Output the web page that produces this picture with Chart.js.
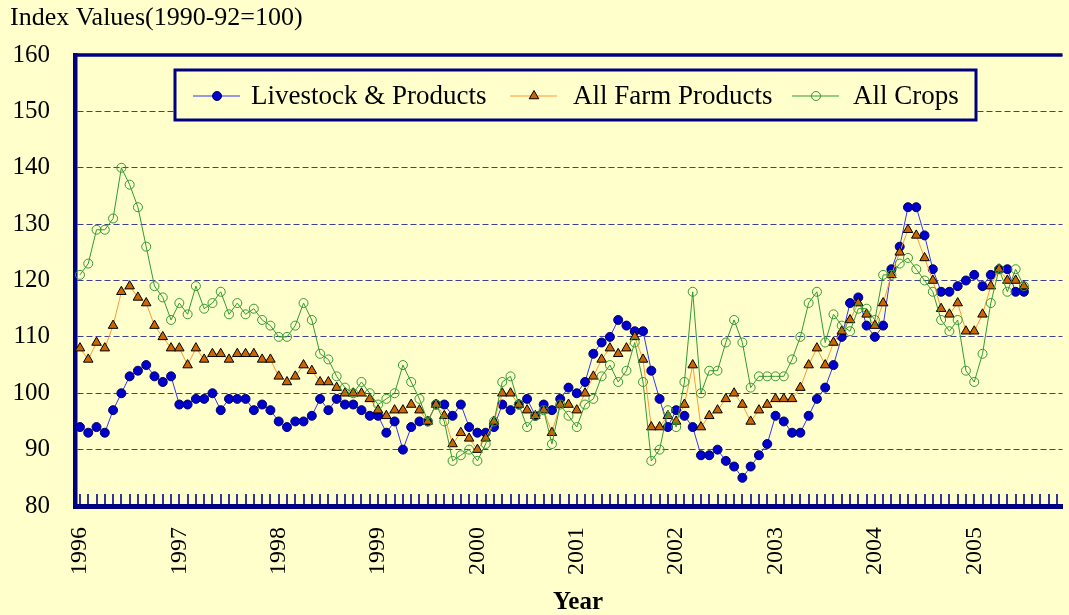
<!DOCTYPE html>
<html>
<head>
<meta charset="utf-8">
<title>Index Values (1990-92=100)</title>
<script src="https://cdn.jsdelivr.net/npm/chart.js@4/dist/chart.umd.min.js"></script>
<style>
  html, body { margin: 0; padding: 0; background: #FFFFCC; overflow: hidden; }
  #wrap { width: 1069px; height: 615px; }
</style>
</head>
<body>
<div id="wrap"><canvas id="chart" width="1069" height="615"></canvas></div>
<script>
// Monatswerte Jan 1996 .. Jul 2005, Index 1990-92 = 100
const years = ['1996', '1997', '1998', '1999', '2000', '2001', '2002', '2003', '2004', '2005'];

const livestock = [
  94, 93, 94, 93, 97, 100, 103, 104, 105, 103, 102, 103,
  98, 98, 99, 99, 100, 97, 99, 99, 99, 97, 98, 97,
  95, 94, 95, 95, 96, 99, 97, 99, 98, 98, 97, 96,
  96, 93, 95, 90, 94, 95, 95, 98, 98, 96, 98, 94,
  93, 93, 94, 98, 97, 98, 99, 96, 98, 97, 99, 101,
  100, 102, 107, 109, 110, 113, 112, 111, 111, 104, 99, 94,
  97, 96, 94, 89, 89, 90, 88, 87, 85, 87, 89, 91,
  96, 95, 93, 93, 96, 99, 101, 105, 110, 116, 117, 112,
  110, 112, 122, 126, 133, 133, 128, 122, 118, 118, 119, 120,
  121, 119, 121, 122, 122, 118, 118
];

const farmProducts = [
  108, 106, 109, 108, 112, 118, 119, 117, 116, 112, 110, 108,
  108, 105, 108, 106, 107, 107, 106, 107, 107, 107, 106, 106,
  103, 102, 103, 105, 104, 102, 102, 101, 100, 100, 100, 99,
  97, 96, 97, 97, 98, 97, 95, 98, 96, 91, 93, 92,
  90, 92, 95, 100, 100, 98, 97, 96, 97, 93, 98, 98,
  97, 100, 103, 106, 108, 107, 108, 110, 106, 94, 94, 96,
  95, 98, 105, 94, 96, 97, 99, 100, 98, 95, 97, 98,
  99, 99, 99, 101, 105, 108, 105, 109, 111, 113, 116, 114,
  112, 116, 121, 125, 129, 128, 124, 120, 115, 114, 116, 111,
  111, 114, 119, 122, 120, 120, 119
];

const crops = [
  121, 123, 129, 129, 131, 140, 137, 133, 126, 119, 117, 113,
  116, 114, 119, 115, 116, 118, 114, 116, 114, 115, 113, 112,
  110, 110, 112, 116, 113, 107, 106, 103, 101, 100, 102, 100,
  98, 99, 100, 105, 102, 99, 95, 98, 95, 88, 89, 90,
  88, 91, 95, 102, 103, 98, 94, 96, 97, 91, 98, 96,
  94, 98, 99, 103, 105, 102, 104, 109, 102, 88, 90, 97,
  94, 102, 118, 100, 104, 104, 109, 113, 109, 101, 103, 103,
  103, 103, 106, 110, 116, 118, 109, 114, 112, 111, 115, 115,
  113, 121, 121, 123, 124, 122, 120, 118, 113, 111, 113, 104,
  102, 107, 116, 122, 118, 122, 119
];

const SERIF = '"Liberation Serif", "Times New Roman", serif';
const NAVY = '#000080';
const BG = '#FFFFCC';

// x = Monatsindex ab Jan 1996
function toPoints(values) {
  return values.map((v, i) => ({ x: i, y: v }));
}

// Marker wie im Datensatz zeichnen (fuer die Legende)
function drawMarker(ctx, ds, x, y) {
  ctx.save();
  ctx.lineWidth = ds.pointBorderWidth;
  ctx.strokeStyle = ds.pointBorderColor;
  ctx.fillStyle = ds.pointBackgroundColor;
  ctx.beginPath();
  if (ds.pointStyle === 'triangle') {
    const r = ds.pointRadius;
    for (let k = 0; k < 3; k++) {
      const a = k * 2 * Math.PI / 3;
      const px = x + Math.sin(a) * r;
      const py = y - Math.cos(a) * r;
      if (k === 0) ctx.moveTo(px, py); else ctx.lineTo(px, py);
    }
    ctx.closePath();
  } else {
    ctx.arc(x, y, ds.pointRadius, 0, Math.PI * 2);
  }
  ctx.fill();
  ctx.stroke();
  ctx.restore();
}

const framePlugin = {
  id: 'frame',
  beforeDatasetsDraw(chart) {
    const { ctx, chartArea: a, scales: { x } } = chart;
    ctx.save();
    // kleine Monats-Striche an der x-Achse
    ctx.strokeStyle = '#3434A0';
    ctx.lineWidth = 2;
    ctx.beginPath();
    for (let i = 0; i <= x.max; i++) {
      const px = Math.round(x.getPixelForValue(i));
      ctx.moveTo(px, a.bottom - 2);
      ctx.lineTo(px, a.bottom - 12);
    }
    ctx.stroke();
    // obere Rahmenlinie
    ctx.strokeStyle = NAVY;
    ctx.lineWidth = 3.5;
    ctx.beginPath();
    ctx.moveTo(a.left - 2, a.top);
    ctx.lineTo(a.right, a.top);
    ctx.stroke();
    ctx.restore();
  },
  afterDraw(chart) {
    const ctx = chart.ctx;
    ctx.save();
    ctx.fillStyle = '#000';
    ctx.font = '26px ' + SERIF;
    ctx.textAlign = 'left';
    ctx.textBaseline = 'alphabetic';
    ctx.fillText('Index Values(1990-92=100)', 10, 25);

    ctx.font = 'bold 25px ' + SERIF;
    ctx.textAlign = 'center';
    ctx.fillText('Year', 578, 609);

    // Legende
    ctx.fillStyle = BG;
    ctx.fillRect(175, 70, 801, 50);
    ctx.strokeStyle = NAVY;
    ctx.lineWidth = 3;
    ctx.strokeRect(175, 70, 801, 50);

    const sampleX = [193, 510, 792];
    const textX = [251, 573, 853];
    const cy = 96;
    ctx.font = '27px ' + SERIF;
    ctx.textAlign = 'left';
    ctx.textBaseline = 'middle';
    chart.data.datasets.forEach((ds, k) => {
      ctx.strokeStyle = ds.borderColor;
      ctx.lineWidth = 1.2;
      ctx.beginPath();
      ctx.moveTo(sampleX[k], cy);
      ctx.lineTo(sampleX[k] + 47, cy);
      ctx.stroke();
      drawMarker(ctx, ds, sampleX[k] + 24, cy);
      ctx.fillStyle = '#000';
      ctx.fillText(ds.label, textX[k], cy + 1);
    });
    ctx.restore();
  }
};

new Chart(document.getElementById('chart'), {
  type: 'line',
  data: {
    datasets: [
      {
        label: 'Livestock & Products',
        data: toPoints(livestock),
        borderColor: '#3333FF',
        borderWidth: 1,
        pointStyle: 'circle',
        pointRadius: 4.5,
        pointBackgroundColor: '#0000CC',
        pointBorderColor: '#000066',
        pointBorderWidth: 1,
        order: 3
      },
      {
        label: 'All Farm Products',
        data: toPoints(farmProducts),
        borderColor: '#FF9933',
        borderWidth: 1,
        pointStyle: 'triangle',
        pointRadius: 5.5,
        pointBackgroundColor: '#CC6600',
        pointBorderColor: '#000000',
        pointBorderWidth: 1,
        order: 2
      },
      {
        label: 'All Crops',
        data: toPoints(crops),
        borderColor: '#339933',
        borderWidth: 1,
        pointStyle: 'circle',
        pointRadius: 4.5,
        pointBackgroundColor: 'rgba(0,0,0,0)',
        pointBorderColor: '#339933',
        pointBorderWidth: 1,
        order: 1
      }
    ]
  },
  options: {
    responsive: false,
    animation: false,
    devicePixelRatio: 1,
    layout: { padding: { top: 55, left: 0, right: 0, bottom: 0 } },
    elements: { line: { tension: 0 } },
    plugins: {
      legend: { display: false },
      tooltip: { enabled: false }
    },
    scales: {
      x: {
        type: 'linear',
        min: -0.6,
        max: 118.66,
        afterFit(s) { s.height = 109; },
        afterBuildTicks(s) { s.ticks = years.map((y, k) => ({ value: k * 12 })); },
        ticks: {
          autoSkip: false,
          minRotation: 90,
          maxRotation: 90,
          padding: 21,
          color: '#000',
          font: { family: SERIF, size: 24 },
          callback: v => years[v / 12]
        },
        grid: { drawOnChartArea: false, drawTicks: false },
        border: { display: true, color: NAVY, width: 5 }
      },
      y: {
        min: 80,
        max: 160,
        afterFit(s) { s.width = 75; },
        ticks: {
          stepSize: 10,
          padding: 25,
          color: '#000',
          font: { family: SERIF, size: 25 }
        },
        grid: { drawTicks: false, color: 'rgba(0,0,128,0.75)', lineWidth: 1 },
        border: { display: true, color: NAVY, width: 4.5, dash: [6, 3] }
      }
    }
  },
  plugins: [framePlugin]
});
</script>
</body>
</html>
